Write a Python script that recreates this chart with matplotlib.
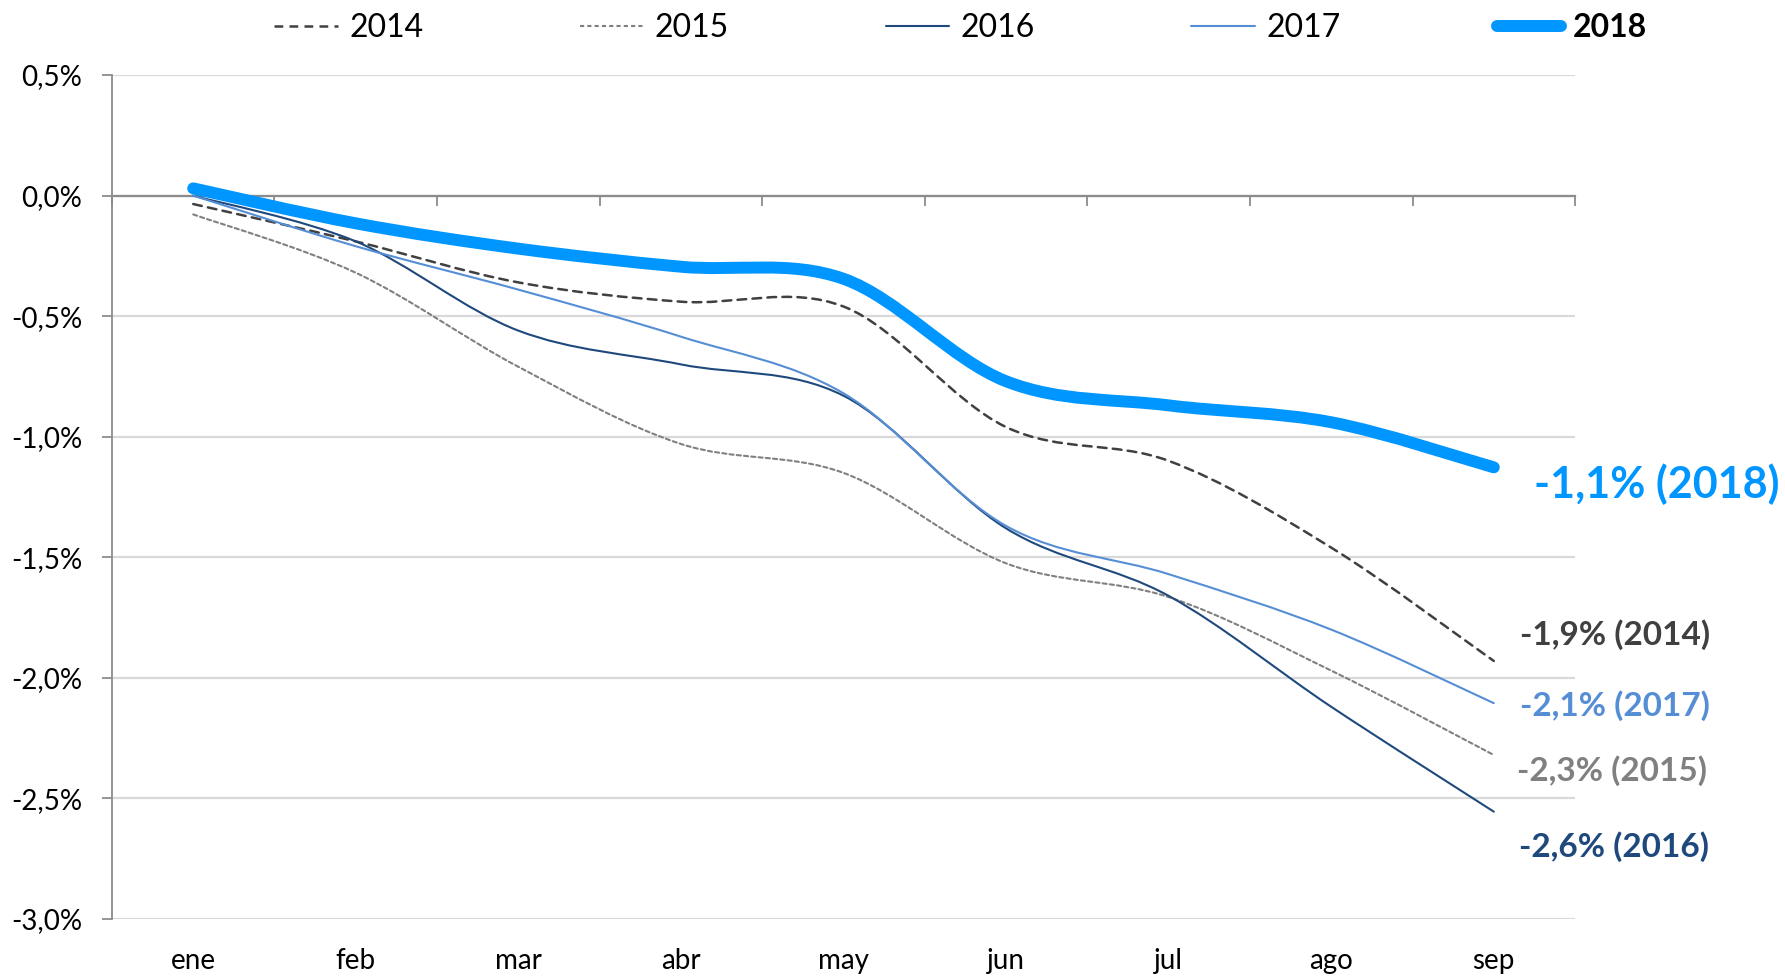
import numpy as np
import matplotlib
matplotlib.use('Agg')
import matplotlib.pyplot as plt
from matplotlib.path import Path
from matplotlib.patches import PathPatch
from matplotlib.lines import Line2D

plt.rcParams['font.family'] = ['Lato', 'DejaVu Sans']

# data (variation, %)
months = ['ene', 'feb', 'mar', 'abr', 'may', 'jun', 'jul', 'ago', 'sep']
years = ['2014', '2015', '2016', '2017', '2018']
v2014 = [-0.035, -0.19, -0.36, -0.44, -0.46, -0.96, -1.10, -1.46, -1.93]
v2015 = [-0.078, -0.32, -0.71, -1.03, -1.15, -1.525, -1.665, -1.97, -2.32]
v2016 = [0.0, -0.19, -0.56, -0.70, -0.83, -1.38, -1.66, -2.12, -2.555]
v2017 = [0.0, -0.21, -0.39, -0.585, -0.82, -1.37, -1.57, -1.80, -2.105]
v2018 = [0.03, -0.115, -0.22, -0.295, -0.345, -0.77, -0.87, -0.94, -1.127]
end_labels = ['-1,9% (2014)', '-2,3% (2015)', '-2,6% (2016)', '-2,1% (2017)', '-1,1% (2018)']
yticks = [0.5, 0.0, -0.5, -1.0, -1.5, -2.0, -2.5, -3.0]

series = [v2014, v2015, v2016, v2017, v2018]
colors = ['#404040', '#808080', '#1F497D', '#558ED5', '#0096FF']
widths = [1.8, 1.5, 1.5, 1.5, 8.6]
styles = [(0, (3.5, 2.5)), (0, (2.0, 1.5)), '-', '-', '-']
label_colors = ['#404040', '#808080', '#1F497D', '#558ED5', '#0096FF']
label_y = [-1.82, -2.385, -2.70, -2.117, -1.197]
label_dx = [0.16, 0.145, 0.155, 0.16, 0.25]
label_size = [24, 24, 24, 24, 31]


def smooth_path(xs, ys):
    # Excel-like smoothed line: cubic bezier through the points
    pts = np.column_stack([xs, ys]).astype(float)
    n = len(pts)
    verts = [pts[0]]
    codes = [Path.MOVETO]
    for i in range(n - 1):
        p0 = pts[i - 1] if i > 0 else pts[i]
        p1 = pts[i]
        p2 = pts[i + 1]
        p3 = pts[i + 2] if i + 2 < n else pts[i + 1]
        verts += [p1 + (p2 - p0) / 6, p2 - (p3 - p1) / 6, p2]
        codes += [Path.CURVE4] * 3
    return Path(verts, codes)


fig = plt.figure(figsize=(17.85, 9.77), dpi=100)
ax = fig.add_axes([0.0627, 0.0594, 0.8197, 0.8638])

x = np.arange(len(months))
for vals, c, lw, ls in zip(series, colors, widths, styles):
    patch = PathPatch(smooth_path(x, vals), fill=False, edgecolor=c, lw=lw,
                      linestyle=ls, capstyle='round', zorder=3)
    ax.add_patch(patch)

ax.set_xlim(-0.5, len(months) - 0.5)
ax.set_ylim(-3.0, 0.5)

# y axis
ax.set_yticks(yticks)
ax.set_yticklabels([f'{v:.1f}%'.replace('.', ',') for v in yticks])
ax.tick_params(axis='y', direction='out', length=7.5, width=1.3, color='#8C8C8C',
               pad=14, labelsize=20)
ax.grid(axis='y', color='#D9D9D9', lw=1.6)
ax.set_axisbelow(True)
for s in ['top', 'right', 'bottom']:
    ax.spines[s].set_visible(False)
ax.spines['left'].set_color('#8C8C8C')
ax.spines['left'].set_linewidth(1.3)

# category labels at bottom
ax.set_xticks(x)
ax.set_xticklabels(months)
ax.tick_params(axis='x', length=0, pad=21, labelsize=20)

# horizontal axis line at 0 with category separators
sec = ax.secondary_xaxis(3.0 / 3.5)
sec.set_alignment('bottom')
sec.set_xticks(np.arange(len(months) + 1) - 0.5)
sec.set_xticklabels([])
sec.tick_params(axis='x', direction='out', length=7.5, width=1.3, color='#8C8C8C')
sec.spines['bottom'].set_color('#8C8C8C')
sec.spines['bottom'].set_linewidth(1.6)
sec.set_zorder(1)

# end labels
for i, vals in enumerate(series):
    ax.text(x[-1] + label_dx[i], label_y[i], end_labels[i], color=label_colors[i],
            fontsize=label_size[i], fontweight='bold', va='center', ha='left',
            clip_on=False)

# legend
handles = [Line2D([], [], color=c, lw=lw, linestyle=ls, solid_capstyle='round')
           for c, lw, ls in zip(colors, widths, styles)]
leg = fig.legend(handles, years, loc='center', bbox_to_anchor=(0.538, 0.971),
                 ncol=5, frameon=False, fontsize=23, handlelength=2.0,
                 handletextpad=0.35, columnspacing=4.9)
leg.get_texts()[-1].set_fontweight('bold')

fig.savefig('out.png', dpi=100)
